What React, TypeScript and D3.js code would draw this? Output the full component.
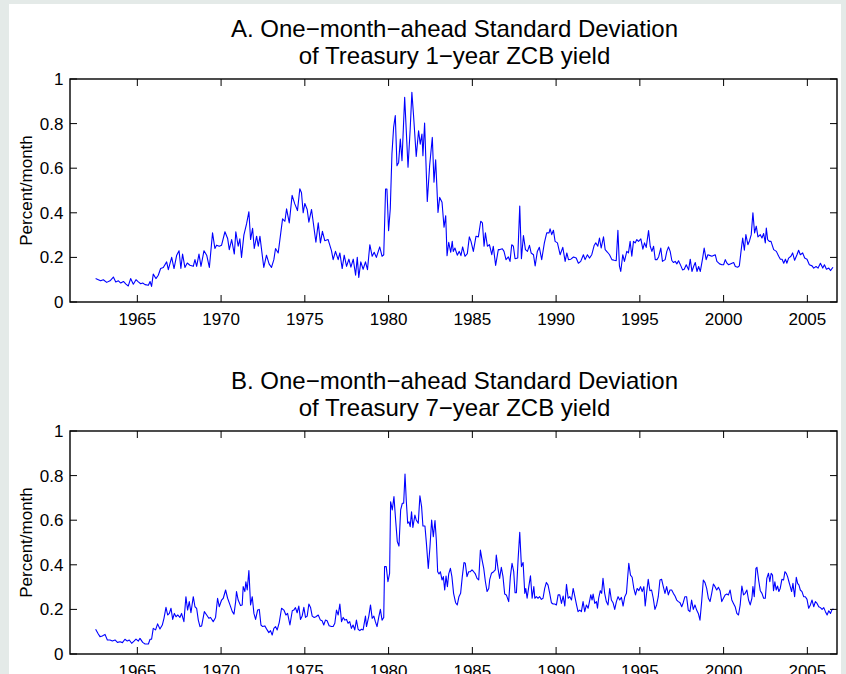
import React from 'react';
import * as d3 from 'd3';

const xTickYears = [1965, 1970, 1975, 1980, 1985, 1990, 1995, 2000, 2005];
const yTickValues = [0, 0.2, 0.4, 0.6, 0.8, 1];
const yTickLabels = ['0', '0.2', '0.4', '0.6', '0.8', '1'];
const titleA = ['A. One\u2212month\u2212ahead Standard Deviation', 'of Treasury 1\u2212year ZCB yield'];
const titleB = ['B. One\u2212month\u2212ahead Standard Deviation', 'of Treasury 7\u2212year ZCB yield'];
const yAxisLabel = 'Percent/month';

// Panel A: one-year ZCB yield (decimal year, percent/month)
const seriesA: [number, number][] = [
  [1962.51, .105], [1962.67, .100], [1962.81, .095], [1962.97, .100], [1963.17, .088], [1963.37, .095],
  [1963.57, .112], [1963.71, .090], [1963.87, .095], [1964.01, .085], [1964.17, .092], [1964.32, .080],
  [1964.46, .072], [1964.60, .105], [1964.76, .080], [1964.92, .100], [1965.06, .090], [1965.20, .082],
  [1965.32, .085], [1965.46, .078], [1965.66, .075], [1965.76, .092], [1965.85, .070], [1965.95, .125],
  [1966.11, .105], [1966.25, .120], [1966.39, .150], [1966.55, .155], [1966.75, .180], [1966.85, .145],
  [1967.05, .200], [1967.19, .150], [1967.35, .210], [1967.49, .230], [1967.60, .150], [1967.70, .215],
  [1967.84, .155], [1967.98, .175], [1968.14, .165], [1968.34, .160], [1968.44, .190], [1968.54, .160],
  [1968.68, .215], [1968.80, .160], [1968.98, .230], [1969.14, .210], [1969.30, .155], [1969.49, .310],
  [1969.63, .240], [1969.73, .255], [1969.89, .250], [1970.03, .255], [1970.23, .315], [1970.39, .285],
  [1970.49, .235], [1970.63, .280], [1970.79, .215], [1970.88, .315], [1971.02, .250], [1971.12, .283],
  [1971.22, .200], [1971.36, .300], [1971.52, .350], [1971.66, .405], [1971.76, .280], [1971.88, .330],
  [1971.98, .240], [1972.12, .295], [1972.22, .250], [1972.32, .295], [1972.44, .220], [1972.55, .155],
  [1972.71, .210], [1972.87, .170], [1973.01, .155], [1973.15, .190], [1973.25, .240], [1973.41, .220],
  [1973.67, .373], [1973.81, .362], [1973.91, .418], [1974.07, .355], [1974.24, .478], [1974.40, .440],
  [1974.56, .410], [1974.70, .508], [1974.80, .490], [1974.90, .400], [1975.00, .442], [1975.14, .415],
  [1975.24, .358], [1975.40, .415], [1975.66, .268], [1975.80, .355], [1975.93, .265], [1976.05, .317],
  [1976.19, .275], [1976.39, .280], [1976.59, .230], [1976.69, .190], [1976.83, .227], [1976.99, .190],
  [1977.09, .220], [1977.23, .150], [1977.35, .210], [1977.49, .160], [1977.63, .192], [1977.75, .156],
  [1977.89, .192], [1978.03, .120], [1978.13, .200], [1978.22, .110], [1978.34, .180], [1978.48, .147],
  [1978.62, .180], [1978.74, .145], [1978.88, .257], [1979.02, .205], [1979.14, .223], [1979.27, .200],
  [1979.47, .247], [1979.61, .205], [1979.71, .212], [1979.82, .507], [1979.90, .507], [1980.00, .320],
  [1980.10, .417], [1980.20, .664], [1980.30, .783], [1980.40, .836], [1980.50, .611], [1980.60, .626],
  [1980.70, .731], [1980.80, .634], [1980.96, .918], [1981.16, .604], [1981.29, .776], [1981.39, .940],
  [1981.49, .836], [1981.65, .653], [1981.79, .768], [1981.89, .708], [1981.99, .753], [1982.05, .656],
  [1982.15, .803], [1982.31, .451], [1982.45, .611], [1982.61, .738], [1982.71, .537], [1982.81, .638],
  [1982.95, .402], [1983.05, .469], [1983.19, .447], [1983.31, .335], [1983.41, .387], [1983.49, .208],
  [1983.59, .268], [1983.71, .223], [1983.80, .272], [1983.86, .227], [1983.96, .242], [1984.10, .210],
  [1984.22, .227], [1984.32, .208], [1984.42, .247], [1984.56, .205], [1984.70, .217], [1984.82, .292],
  [1984.92, .272], [1985.06, .227], [1985.22, .295], [1985.36, .292], [1985.50, .362], [1985.60, .355],
  [1985.70, .250], [1985.78, .310], [1985.90, .250], [1986.02, .257], [1986.16, .212], [1986.25, .250],
  [1986.39, .164], [1986.55, .235], [1986.65, .235], [1986.79, .239], [1986.89, .227], [1987.01, .190],
  [1987.15, .202], [1987.25, .182], [1987.35, .257], [1987.45, .250], [1987.55, .194], [1987.71, .197],
  [1987.83, .430], [1987.93, .194], [1988.05, .298], [1988.17, .235], [1988.29, .227], [1988.41, .254],
  [1988.51, .220], [1988.65, .212], [1988.75, .162], [1988.88, .227], [1989.00, .245], [1989.14, .190],
  [1989.30, .265], [1989.44, .310], [1989.58, .310], [1989.64, .328], [1989.74, .302], [1989.84, .322],
  [1989.94, .272], [1990.08, .265], [1990.24, .212], [1990.40, .245], [1990.54, .182], [1990.64, .220],
  [1990.74, .190], [1990.88, .192], [1991.04, .202], [1991.20, .197], [1991.33, .174], [1991.47, .182],
  [1991.63, .212], [1991.73, .190], [1991.87, .212], [1991.99, .197], [1992.13, .212], [1992.27, .253],
  [1992.37, .265], [1992.49, .250], [1992.59, .287], [1992.69, .242], [1992.83, .292], [1992.93, .235],
  [1993.07, .223], [1993.19, .212], [1993.33, .190], [1993.47, .187], [1993.59, .185], [1993.69, .322],
  [1993.78, .162], [1993.86, .137], [1993.98, .212], [1994.08, .182], [1994.22, .227], [1994.32, .220],
  [1994.42, .272], [1994.52, .205], [1994.62, .272], [1994.72, .265], [1994.82, .280], [1994.92, .272],
  [1995.06, .283], [1995.18, .237], [1995.28, .265], [1995.38, .245], [1995.52, .320], [1995.62, .250],
  [1995.72, .227], [1995.82, .250], [1995.92, .190], [1996.02, .190], [1996.12, .202], [1996.25, .242],
  [1996.35, .182], [1996.51, .190], [1996.61, .227], [1996.71, .247], [1996.81, .227], [1996.91, .186],
  [1997.01, .177], [1997.11, .182], [1997.21, .171], [1997.31, .185], [1997.45, .162], [1997.55, .144],
  [1997.65, .147], [1997.77, .167], [1997.91, .144], [1998.01, .192], [1998.11, .137], [1998.21, .159],
  [1998.31, .177], [1998.41, .137], [1998.51, .159], [1998.61, .137], [1998.75, .197], [1998.84, .242],
  [1998.96, .190], [1999.06, .212], [1999.20, .208], [1999.30, .205], [1999.50, .212], [1999.60, .182],
  [1999.76, .171], [1999.90, .167], [2000.00, .167], [2000.10, .190], [2000.20, .174], [2000.30, .167],
  [2000.50, .174], [2000.60, .177], [2000.70, .159], [2000.84, .156], [2000.94, .162], [2001.04, .227],
  [2001.14, .287], [2001.24, .232], [2001.33, .302], [2001.45, .257], [2001.55, .275], [2001.65, .302],
  [2001.75, .400], [2001.85, .310], [2001.95, .340], [2002.05, .292], [2002.19, .302], [2002.29, .287],
  [2002.39, .307], [2002.49, .265], [2002.55, .332], [2002.63, .280], [2002.73, .272], [2002.83, .272],
  [2002.99, .235], [2003.15, .227], [2003.29, .205], [2003.39, .192], [2003.49, .192], [2003.59, .174],
  [2003.69, .192], [2003.78, .174], [2003.88, .197], [2004.02, .205], [2004.12, .220], [2004.24, .187],
  [2004.38, .212], [2004.48, .232], [2004.58, .212], [2004.72, .220], [2004.84, .197], [2004.98, .192],
  [2005.12, .167], [2005.28, .162], [2005.38, .152], [2005.52, .159], [2005.64, .152], [2005.78, .174],
  [2005.92, .152], [2006.02, .167], [2006.14, .147], [2006.28, .152], [2006.38, .141], [2006.53, .156],
];

// Panel B: seven-year ZCB yield (decimal year, percent/month)
const seriesB: [number, number][] = [
  [1962.51, .111], [1962.67, .090], [1962.77, .078], [1962.91, .081], [1963.07, .088], [1963.21, .063],
  [1963.37, .063], [1963.51, .058], [1963.67, .063], [1963.81, .052], [1963.97, .055], [1964.11, .051],
  [1964.26, .066], [1964.40, .058], [1964.52, .063], [1964.66, .048], [1964.80, .058], [1964.92, .067],
  [1965.06, .058], [1965.16, .070], [1965.32, .052], [1965.46, .045], [1965.66, .045], [1965.76, .066],
  [1965.85, .066], [1965.95, .115], [1966.09, .108], [1966.21, .135], [1966.35, .112], [1966.49, .130],
  [1966.59, .160], [1966.71, .209], [1966.81, .175], [1966.91, .182], [1967.01, .205], [1967.11, .155],
  [1967.21, .182], [1967.31, .167], [1967.41, .175], [1967.54, .164], [1967.64, .182], [1967.78, .145],
  [1967.90, .257], [1968.00, .197], [1968.10, .235], [1968.20, .185], [1968.34, .257], [1968.44, .212],
  [1968.54, .205], [1968.64, .152], [1968.74, .123], [1968.84, .126], [1969.00, .190], [1969.14, .175],
  [1969.27, .160], [1969.37, .164], [1969.53, .145], [1969.67, .164], [1969.79, .250], [1969.89, .212],
  [1970.03, .242], [1970.13, .250], [1970.27, .287], [1970.39, .250], [1970.53, .220], [1970.67, .190],
  [1970.77, .179], [1970.87, .235], [1970.92, .280], [1971.02, .242], [1971.16, .217], [1971.26, .220],
  [1971.32, .302], [1971.42, .280], [1971.48, .324], [1971.56, .287], [1971.66, .374], [1971.76, .220],
  [1971.86, .257], [1971.96, .182], [1972.06, .155], [1972.18, .197], [1972.28, .200], [1972.38, .130],
  [1972.48, .123], [1972.61, .126], [1972.75, .108], [1972.85, .096], [1972.95, .105], [1973.05, .085],
  [1973.15, .115], [1973.25, .123], [1973.35, .108], [1973.47, .141], [1973.61, .205], [1973.75, .197],
  [1973.87, .175], [1973.97, .182], [1974.11, .130], [1974.25, .194], [1974.34, .197], [1974.44, .208],
  [1974.54, .185], [1974.64, .215], [1974.74, .155], [1974.84, .170], [1974.94, .209], [1975.04, .164],
  [1975.14, .170], [1975.24, .224], [1975.34, .209], [1975.44, .170], [1975.56, .164], [1975.66, .167],
  [1975.80, .175], [1975.93, .152], [1976.03, .149], [1976.13, .130], [1976.23, .152], [1976.33, .149],
  [1976.45, .127], [1976.59, .123], [1976.69, .123], [1976.79, .138], [1976.89, .197], [1976.99, .175],
  [1977.09, .224], [1977.19, .145], [1977.29, .164], [1977.39, .152], [1977.49, .155], [1977.58, .138],
  [1977.68, .145], [1977.78, .115], [1977.88, .130], [1977.98, .108], [1978.08, .152], [1978.18, .111],
  [1978.28, .105], [1978.38, .111], [1978.48, .108], [1978.62, .170], [1978.68, .123], [1978.82, .170],
  [1978.92, .220], [1979.02, .160], [1979.12, .170], [1979.21, .145], [1979.31, .123], [1979.41, .164],
  [1979.51, .200], [1979.61, .152], [1979.71, .164], [1979.76, .392], [1979.86, .392], [1979.96, .324],
  [1980.06, .362], [1980.12, .683], [1980.22, .646], [1980.32, .706], [1980.42, .601], [1980.52, .504],
  [1980.62, .484], [1980.72, .646], [1980.82, .676], [1980.90, .676], [1980.98, .807], [1981.06, .683],
  [1981.14, .586], [1981.22, .593], [1981.29, .571], [1981.37, .638], [1981.45, .568], [1981.57, .623],
  [1981.65, .601], [1981.77, .586], [1981.87, .709], [1981.97, .661], [1982.05, .574], [1982.17, .574],
  [1982.25, .504], [1982.37, .384], [1982.47, .481], [1982.57, .601], [1982.67, .526], [1982.77, .598],
  [1982.85, .511], [1982.93, .369], [1983.01, .359], [1983.09, .369], [1983.19, .332], [1983.27, .347],
  [1983.35, .287], [1983.43, .350], [1983.51, .302], [1983.59, .359], [1983.69, .384], [1983.78, .347],
  [1983.88, .272], [1984.00, .230], [1984.10, .220], [1984.20, .257], [1984.30, .272], [1984.40, .347],
  [1984.50, .410], [1984.58, .407], [1984.68, .347], [1984.78, .369], [1984.88, .369], [1984.98, .377],
  [1985.08, .369], [1985.18, .359], [1985.28, .339], [1985.38, .332], [1985.48, .466], [1985.58, .422],
  [1985.68, .384], [1985.78, .324], [1985.88, .280], [1985.98, .294], [1986.04, .335], [1986.14, .362],
  [1986.27, .369], [1986.37, .377], [1986.43, .444], [1986.53, .384], [1986.63, .339], [1986.73, .389],
  [1986.83, .347], [1986.93, .269], [1987.03, .265], [1987.17, .235], [1987.27, .347], [1987.37, .407],
  [1987.47, .369], [1987.55, .275], [1987.63, .275], [1987.73, .422], [1987.83, .546], [1987.93, .392],
  [1988.03, .410], [1988.13, .272], [1988.19, .294], [1988.27, .250], [1988.37, .302], [1988.47, .351],
  [1988.57, .250], [1988.67, .302], [1988.73, .250], [1988.82, .257], [1988.92, .250], [1989.02, .257],
  [1989.12, .245], [1989.22, .250], [1989.32, .294], [1989.42, .321], [1989.52, .309], [1989.62, .272],
  [1989.72, .230], [1989.82, .224], [1989.92, .224], [1990.02, .220], [1990.12, .265], [1990.22, .265],
  [1990.32, .227], [1990.42, .260], [1990.52, .215], [1990.62, .312], [1990.72, .250], [1990.82, .257],
  [1990.92, .242], [1991.02, .294], [1991.12, .257], [1991.22, .220], [1991.31, .190], [1991.41, .197],
  [1991.51, .190], [1991.61, .235], [1991.71, .190], [1991.81, .220], [1991.91, .205], [1992.01, .242],
  [1992.07, .265], [1992.15, .242], [1992.21, .269], [1992.31, .227], [1992.41, .235], [1992.47, .205],
  [1992.54, .250], [1992.64, .284], [1992.72, .272], [1992.80, .339], [1992.90, .272], [1993.00, .235],
  [1993.10, .220], [1993.20, .294], [1993.30, .242], [1993.40, .230], [1993.50, .200], [1993.60, .235],
  [1993.70, .257], [1993.80, .242], [1993.90, .254], [1994.00, .215], [1994.10, .257], [1994.20, .272],
  [1994.26, .332], [1994.34, .407], [1994.44, .354], [1994.54, .344], [1994.64, .294], [1994.74, .265],
  [1994.84, .294], [1994.94, .284], [1995.04, .302], [1995.14, .280], [1995.24, .302], [1995.32, .215],
  [1995.40, .272], [1995.50, .335], [1995.60, .284], [1995.70, .287], [1995.80, .250], [1995.90, .200],
  [1996.00, .220], [1996.10, .257], [1996.20, .332], [1996.30, .335], [1996.40, .302], [1996.50, .272],
  [1996.60, .302], [1996.70, .265], [1996.80, .287], [1996.90, .287], [1997.00, .272], [1997.10, .260],
  [1997.20, .242], [1997.30, .235], [1997.40, .230], [1997.50, .212], [1997.59, .230], [1997.69, .257],
  [1997.79, .257], [1997.89, .197], [1997.99, .190], [1998.09, .242], [1998.19, .200], [1998.29, .220],
  [1998.39, .197], [1998.49, .182], [1998.59, .152], [1998.69, .235], [1998.79, .332], [1998.89, .320],
  [1998.99, .294], [1999.09, .250], [1999.19, .235], [1999.29, .272], [1999.39, .314], [1999.49, .302],
  [1999.59, .287], [1999.69, .299], [1999.79, .284], [1999.89, .235], [1999.99, .250], [2000.09, .265],
  [2000.19, .269], [2000.29, .265], [2000.39, .287], [2000.49, .242], [2000.59, .227], [2000.69, .212],
  [2000.79, .182], [2000.89, .175], [2000.99, .220], [2001.09, .305], [2001.19, .265], [2001.29, .272],
  [2001.39, .287], [2001.49, .242], [2001.59, .220], [2001.69, .250], [2001.75, .302], [2001.83, .257],
  [2001.93, .384], [2001.99, .389], [2002.09, .332], [2002.19, .284], [2002.29, .272], [2002.39, .250],
  [2002.49, .250], [2002.58, .339], [2002.68, .362], [2002.76, .324], [2002.84, .362], [2002.92, .354],
  [2002.98, .284], [2003.06, .324], [2003.14, .287], [2003.22, .305], [2003.30, .280], [2003.38, .294],
  [2003.48, .335], [2003.58, .332], [2003.66, .369], [2003.74, .362], [2003.82, .347], [2003.90, .324],
  [2003.98, .302], [2004.06, .280], [2004.14, .317], [2004.24, .257], [2004.34, .344], [2004.42, .317],
  [2004.50, .309], [2004.58, .287], [2004.68, .280], [2004.78, .257], [2004.88, .257], [2004.98, .245],
  [2005.08, .205], [2005.18, .220], [2005.28, .242], [2005.38, .212], [2005.48, .235], [2005.58, .227],
  [2005.68, .212], [2005.78, .208], [2005.88, .200], [2005.98, .208], [2006.08, .190], [2006.18, .175],
  [2006.28, .194], [2006.38, .182], [2006.48, .200], [2006.58, .200],
];

const FONT = '"Liberation Sans", Arial, Helvetica, sans-serif';

type PanelProps = { top: number; title: string[]; data: [number, number][] };

function Panel({ top, title, data }: PanelProps) {
  const left = 70;
  const right = 837;
  const height = 223;
  const bottom = top + height;
  const x = d3.scaleLinear().domain([1960.98, 2006.77]).range([left, right]);
  const y = d3.scaleLinear().domain([0, 1]).range([bottom, top]);
  const line = d3
    .line<[number, number]>()
    .x((d) => x(d[0]))
    .y((d) => y(d[1]));
  const tickLen = 7;
  const cx = (left + right) / 2 + 1;
  return (
    <g>
      <text x={cx} y={top - 42} textAnchor="middle" fontSize={24} fontFamily={FONT} fill="#000">
        {title[0]}
      </text>
      <text x={cx} y={top - 15.5} textAnchor="middle" fontSize={24} fontFamily={FONT} fill="#000">
        {title[1]}
      </text>
      <path d={line(data) || ''} fill="none" stroke="#0000ff" strokeWidth={1.1} strokeLinejoin="round" />
      {xTickYears.map((yr) => (
        <g key={yr}>
          <line x1={x(yr)} x2={x(yr)} y1={bottom} y2={bottom - tickLen} stroke="#000" strokeWidth={1} />
          <line x1={x(yr)} x2={x(yr)} y1={top} y2={top + tickLen} stroke="#000" strokeWidth={1} />
          <text x={x(yr)} y={bottom + 23} textAnchor="middle" fontSize={17} fontFamily={FONT} fill="#000">
            {String(yr)}
          </text>
        </g>
      ))}
      {yTickValues.map((v, i) => (
        <g key={v}>
          <line x1={left} x2={left + tickLen} y1={y(v)} y2={y(v)} stroke="#000" strokeWidth={1} />
          <line x1={right} x2={right - tickLen} y1={y(v)} y2={y(v)} stroke="#000" strokeWidth={1} />
          <text x={left - 6.5} y={y(v)} dy="0.35em" textAnchor="end" fontSize={17} fontFamily={FONT} fill="#000">
            {yTickLabels[i]}
          </text>
        </g>
      ))}
      <rect x={left} y={top} width={right - left} height={height} fill="none" stroke="#000" strokeWidth={1.4} />
      <text
        transform={`translate(32, ${(top + bottom) / 2}) rotate(-90)`}
        textAnchor="middle"
        fontSize={17}
        fontFamily={FONT}
        fill="#000"
      >
        {yAxisLabel}
      </text>
    </g>
  );
}

export default function App() {
  const W = 846;
  const H = 674;
  return (
    <svg
      width={W}
      height={H}
      viewBox={`0 0 ${W} ${H}`}
      style={{ position: 'absolute', left: 0, top: 0, display: 'block' }}
    >
      <rect x={0} y={0} width={W} height={H} fill="#e4eae8" />
      <rect x={9} y={4} width={832} height={H - 4} fill="#ffffff" />
      <Panel top={79} title={titleA} data={seriesA} />
      <Panel top={431} title={titleB} data={seriesB} />
    </svg>
  );
}
